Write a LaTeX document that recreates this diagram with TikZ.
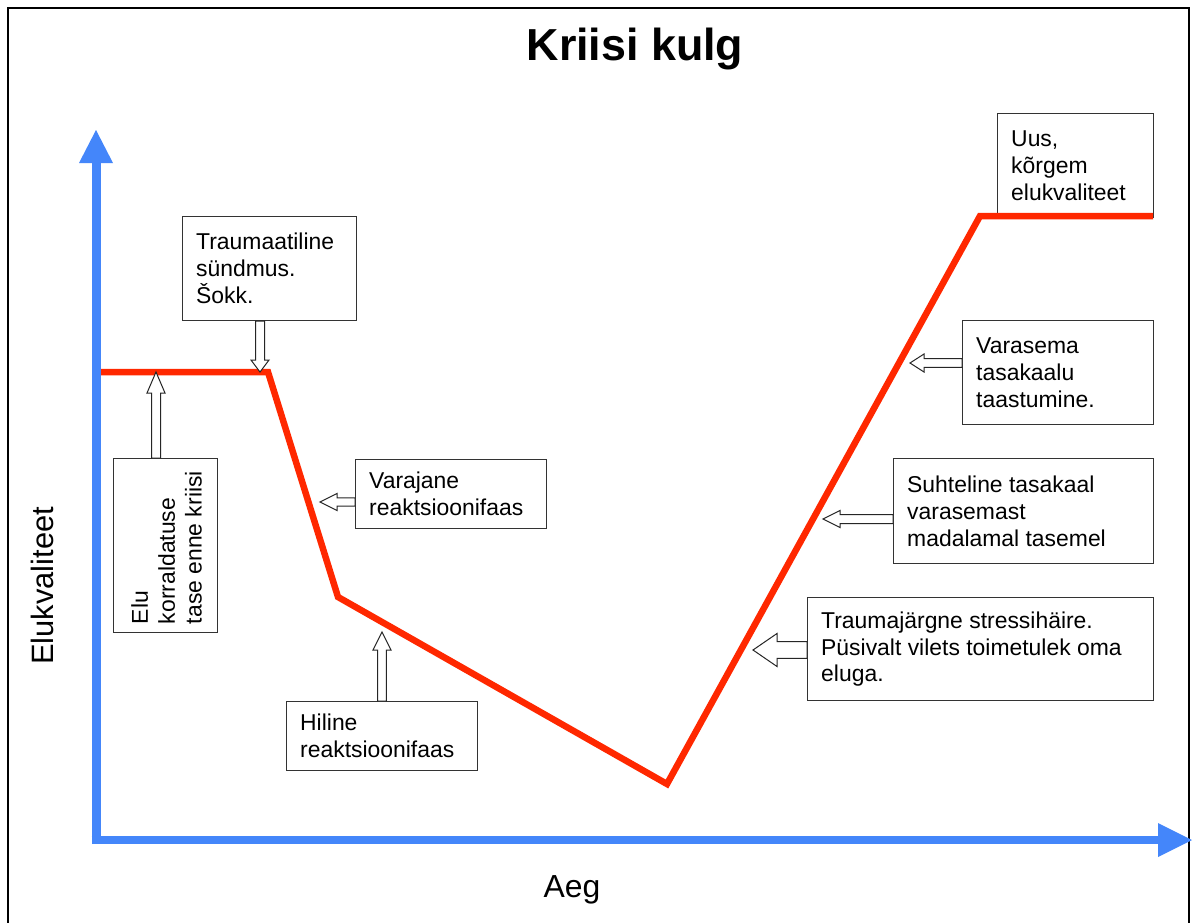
\documentclass[tikz,border=0pt]{standalone}
\usepackage{fontspec}
\setmainfont{Liberation Sans}
\usetikzlibrary{calc}
\definecolor{axisblue}{RGB}{68,134,250}
\definecolor{curvered}{RGB}{255,40,0}
\tikzset{
  box/.style={draw=black!80, line width=1.2bp, fill=white, inner sep=0pt, anchor=north west},
  txt/.style={font=\fontsize{23}{27}\selectfont, align=left, inner sep=0pt, anchor=west},
  blk/.style={draw=black!85, line width=1bp, fill=white, line join=miter},
  curve/.style={draw=curvered, line width=6.5bp, line join=miter},
  axis/.style={draw=axisblue},
  axhead/.style={fill=axisblue},
}
\newcommand\uparr[5]{\draw[blk] ($(#1)+(-#3,0)$) -- ($(#2)+(-#3,#5)$) -- ($(#2)+(-#4,#5)$) -- (#2) -- ($(#2)+(#4,#5)$) -- ($(#2)+(#3,#5)$) -- ($(#1)+(#3,0)$) -- cycle;}
\newcommand\leftarr[5]{\draw[blk] ($(#1)+(0,-#3)$) -- ($(#2)+(#5,-#3)$) -- ($(#2)+(#5,-#4)$) -- (#2) -- ($(#2)+(#5,#4)$) -- ($(#2)+(#5,#3)$) -- ($(#1)+(0,#3)$) -- cycle;}
\begin{document}
\begin{tikzpicture}[x=1bp,y=-1bp]
\useasboundingbox (0,0) rectangle (1195,923);
\clip (0,0) rectangle (1195,923);
\fill[white] (0,0) rectangle (1195,923);
% frame
\draw[line width=2.5bp] (8,940) -- (8,8) -- (1189,8) -- (1189,940);
% title and axis labels
\node[font=\bfseries\fontsize{45}{54}\selectfont, anchor=base, inner sep=0pt] (title) at (635,60) {Kriisi kulg};
\node[font=\fontsize{32}{38}\selectfont, anchor=base, inner sep=0pt] (xlab) at (572,897) {Aeg};
\node[font=\fontsize{31}{37}\selectfont, anchor=base, rotate=90, inner sep=0pt] (ylab) at (53,586) {Elukvaliteet};
% boxes
\node[box, minimum width=104bp, minimum height=174bp] (b0) at (113,458) {};
\node[txt, rotate=90] (t0) at ($(b0.south)+(1,-9)$) {Elu\\korraldatuse\\tase enne kriisi};
\node[box, minimum width=174bp, minimum height=104bp] (b1) at (182,216) {};
\node[txt] (t1) at ($(b1.west)+(14,0)$) {Traumaatiline\\sündmus.\\Šokk.};
\node[box, minimum width=191bp, minimum height=69bp] (b2) at (355,459) {};
\node[txt] (t2) at ($(b2.west)+(14,0)$) {Varajane\\reaktsioonifaas};
\node[box, minimum width=191bp, minimum height=69bp] (b3) at (286,701) {};
\node[txt] (t3) at ($(b3.west)+(14,0)$) {Hiline\\reaktsioonifaas};
\node[box, minimum width=156bp, minimum height=104bp] (b4) at (997,113) {};
\node[txt] (t4) at ($(b4.west)+(14,0)$) {Uus,\\kõrgem\\elukvaliteet};
\node[box, minimum width=191bp, minimum height=104bp] (b5) at (962,320) {};
\node[txt] (t5) at ($(b5.west)+(14,0)$) {Varasema\\tasakaalu\\taastumine.};
\node[box, minimum width=260bp, minimum height=105bp] (b6) at (893,458) {};
\node[txt] (t6) at ($(b6.west)+(14,0)$) {Suhteline tasakaal\\varasemast\\madalamal tasemel};
\node[box, minimum width=346bp, minimum height=103bp] (b7) at (807,597) {};
\node[txt] (t7) at ($(b7.west)+(14,0)$) {Traumajärgne stressihäire.\\Püsivalt vilets toimetulek oma\\eluga.};
% curve
\coordinate (c0) at (96,372);
\coordinate (c1) at (268,372);
\coordinate (c2) at (338,597);
\coordinate (c3) at (667,784);
\coordinate (c4) at (980,216);
\coordinate (c5) at (1153,216);
\draw[curve] (c0) -- (c1) -- (c2) -- (c3) -- (c4) -- (c5);
% axes
\coordinate (o) at (96,840);
\coordinate (ytip) at (96,130);
\coordinate (xtip) at (1192,840);
\draw[axis, line width=9bp] (96,844) -- (96,160);
\fill[axhead] (79,163) -- (ytip) -- (113,163) -- cycle;
\draw[axis, line width=8bp] (91.5,840) -- (1160,840);
\fill[axhead] (1158,823) -- (xtip) -- (1158,857) -- cycle;
% block arrows
\coordinate (p0) at (156,372);
\coordinate (s0) at (p0 |- b0.north);
\uparr{s0}{p0}{4.5}{9}{21}
\coordinate (p1) at (260,372);
\coordinate (s1) at (p1 |- b1.south);
\uparr{s1}{p1}{4.5}{9}{-12}
\coordinate (p2) at (320,502);
\coordinate (s2) at (p2 -| b2.west);
\leftarr{s2}{p2}{4.2}{8.5}{17}
\coordinate (p3) at (382,632);
\coordinate (s3) at (p3 |- b3.north);
\uparr{s3}{p3}{4.3}{9}{18}
\coordinate (p5) at (910,363);
\coordinate (s5) at (p5 -| b5.west);
\leftarr{s5}{p5}{4.3}{9}{14}
\coordinate (p6) at (823,519);
\coordinate (s6) at (p6 -| b6.west);
\leftarr{s6}{p6}{4.5}{8.5}{17}
\coordinate (p7) at (753,650);
\coordinate (s7) at (p7 -| b7.west);
\leftarr{s7}{p7}{8.3}{16.5}{24}
\end{tikzpicture}
\end{document}
